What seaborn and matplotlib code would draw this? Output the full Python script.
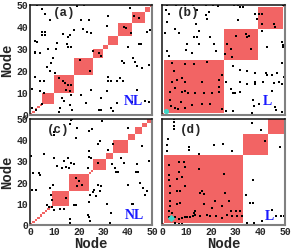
import numpy as np
import pandas as pd
import matplotlib
matplotlib.use("Agg")
import matplotlib.pyplot as plt
import seaborn as sns
from matplotlib.colors import ListedColormap

N = 50

# communities (first node, last node) for each panel
a_blocks = [(0, 0), (1, 1), (2, 2), (3, 3), (4, 4), (5, 9), (10, 17), (18, 25), (26, 29),
            (30, 31), (32, 35), (36, 41), (42, 46), (47, 48), (49, 49)]
b_blocks = [(0, 0), (1, 24), (25, 38), (39, 48), (49, 49)]
c_blocks = [(0, 0), (1, 1), (2, 2), (3, 3), (4, 4), (5, 5), (6, 6), (7, 7), (8, 8), (9, 15),
            (16, 23), (24, 24), (25, 25), (26, 30), (31, 33), (34, 39), (40, 42), (43, 45),
            (46, 47), (48, 49)]
d_blocks = [(0, 0), (1, 32), (33, 42), (43, 49)]

# links (node i, node j)
a_dots = [(3, 50), (5.1, 48), (6.1, 46), (8.3, 43.3), (19.3, 49.4), (22, 50), (21, 43), (24, 43.3),
          (32, 45.2), (31.5, 40.3), (41, 48.5), (42.5, 45), (49, 38.8), (48, 37.6), (5.1, 37.9),
          (6.1, 37.9), (5.1, 36.3), (6.1, 36.3), (2.2, 33.7), (3, 33), (2, 28.8), (2, 28), (4.1, 28),
          (7.2, 30), (10.6, 30.2), (11, 32.7), (13.4, 36.8), (16.4, 36.3), (15.7, 35.3), (15.2, 32.5),
          (15.5, 30.7), (16.6, 31), (18.2, 38.6), (21.7, 39), (23.5, 37.6), (24.9, 37.1), (9.3, 25.8),
          (8.6, 23.8), (6.8, 21.9), (8.3, 20), (10.2, 19.3), (2.1, 17.2), (4, 15.3), (5.9, 15.3),
          (0.8, 12), (4.3, 11), (5.8, 10), (0.7, 3.1), (2.3, 2.3), (5.1, 5.2), (12, 1.5), (12.4, 3),
          (16.2, 4.6), (17.3, 2.3), (14.1, 6.4), (13, 7.7), (16.9, 9.2), (23, 5.4), (28.3, 2.3),
          (29.1, 2.3), (31.5, 11), (31.8, 15.3), (33.4, 15.3), (35.5, 15.3), (36.9, 16.6), (32, 17.2),
          (38.3, 15.3), (37.8, 24.5), (38.5, 23.5), (42.4, 26), (43.1, 24.2), (43.8, 22.2),
          (45.9, 21.5), (48.9, 22.7), (40.3, 31), (44.5, 32.2), (45.3, 32.2), (35.5, 5.4), (33.4, 3.1),
          (34.1, 1.8), (43.8, 11.5), (42, 6.1), (48.6, 6.1), (47.2, 6.4), (28.2, 28.4), (29.3, 26.8),
          (38.4, 40.2), (39.2, 39.4), (41.4, 37.1), (42.8, 45.2), (44.5, 44.2), (12, 16.6),
          (13.4, 15.3), (14.5, 14.4), (15.5, 13.5), (16.9, 13.8), (14.8, 11.5), (16.2, 10.7),
          (20.3, 24.8), (24.4, 20), (25.8, 29.1), (21, 9.2), (29.3, 7.7), (25, 11.5)]
b_dots = [(2, 50), (5.6, 50), (9.4, 50), (12.6, 50), (17.7, 50), (20.8, 50), (22.8, 49.5), (29.1, 50),
          (31, 50), (31.8, 49.2), (32.9, 49.2), (49.2, 50), (1.6, 47.7), (2.7, 46.1), (2, 42.3),
          (5.4, 39.2), (6.8, 37.2), (1.4, 37.2), (14.3, 47.7), (17.7, 45.4), (18.1, 43.5), (19, 46.9),
          (13.9, 41.2), (15, 38.4), (12.9, 35.3), (14.3, 35.3), (10.2, 32.2), (15, 32.2), (19.7, 35.3),
          (21.1, 32.2), (22, 29.1), (9.9, 29.4), (12, 28.3), (2, 29.1), (3, 26.8), (30.8, 43.3),
          (37.8, 46.1), (39.4, 46.1), (40.5, 46.1), (38.7, 43.8), (40.8, 38.4), (45.5, 41.5),
          (45.9, 40.2), (48.9, 33), (49.2, 31.9), (49.2, 30.7), (42.8, 31.1), (48.9, 23.7), (49.6, 17.5),
          (28.8, 22.1), (31.9, 20.6), (34.6, 19.8), (38, 19), (42.1, 19.3), (42.8, 18), (44.8, 18),
          (46.9, 19), (26.1, 15.2), (31.9, 14.9), (34.6, 13.9), (38, 15.2), (38, 13.9), (41, 15.2),
          (45.5, 14.4), (47.6, 15.2), (27.9, 11.8), (28.8, 10.2), (29.6, 9.8), (31.9, 10.5),
          (44.8, 10.8), (48.9, 13.9), (37, 6.7), (37.4, 4.3), (39.4, 5.1), (45.8, 3.6), (46.5, 2.5),
          (48.9, 1.5), (26.1, 2), (28.8, 2), (36.7, 0.9), (4.1, 23.7), (9.5, 23.2), (12.9, 23.2),
          (18.1, 24.1), (4.8, 19.8), (24.2, 18.3), (23.1, 15.9), (4.1, 15.2), (6.1, 15.9), (8.2, 17),
          (9.2, 15.2), (16.3, 15.2), (23.1, 12.8), (3.4, 10.5), (5.2, 12.1), (8.2, 10.5), (9.2, 10.8),
          (10.6, 10.1), (13.3, 9.8), (17, 10.2), (20.4, 9.8), (23.1, 10.5), (3.4, 6.7), (7.9, 5.9),
          (12.2, 4.6), (16.3, 5.1), (19.7, 4.8), (3.8, 4), (5.4, 3.1), (6.5, 2.8), (9.5, 3.1),
          (24.5, 2.8), (29.9, 36.1), (34, 36.8), (34.6, 35.6), (35.3, 36.1), (26.5, 32.2), (27.9, 29.9),
          (36, 29.9), (25.8, 27.9), (28.3, 26.3), (40.5, 41.5), (45.5, 41.2)]
c_dots = [(0.4, 32.5), (1.4, 24.6), (3.5, 24.6), (4.2, 23.8), (5.6, 33.7), (0.7, 16.7), (2.4, 16.7),
          (9.7, 31.7), (9.7, 42.5), (9.7, 43.7), (11.1, 27.8), (13.2, 27), (13.9, 30.2), (14.6, 27.3),
          (15.7, 31.7), (16.7, 29.4), (16, 27), (16.3, 47.6), (17.4, 50), (19.4, 45.7), (18.8, 41),
          (18.1, 28.6), (16.7, 49.5), (24, 44.4), (25.4, 45.2), (24.3, 34.9), (24.3, 32.1), (25, 31.4),
          (23.6, 27), (27.8, 38.1), (28.5, 39.7), (29.4, 49.2), (34, 38.1), (31.9, 35.2), (33.8, 28.9),
          (34.7, 27), (37.5, 31.7), (38.5, 29.4), (36.1, 24.9), (35.4, 24.9), (40.3, 45.7),
          (43.8, 28.6), (43.5, 24.9), (44.4, 24.9), (45.8, 37.3), (48.6, 30.2), (40.3, 19),
          (45.1, 19.8), (47.2, 14.3), (47.9, 15.9), (46.3, 17.5), (42.4, 9.8), (41.7, 9.8), (33.3, 5.6),
          (32.6, 0.8), (31.5, 10), (27.1, 13.5), (28.5, 15.9), (29.2, 18.3), (27.8, 19), (26.4, 16.7),
          (25.7, 15.4), (24.6, 14.3), (24.3, 10.8), (24, 4), (24.6, 1.9), (23.6, 4.8), (16.5, 2.9),
          (16.5, 0.8), (18.8, 9.5), (18.1, 9.5), (13.9, 7.6), (12.5, 7.6), (9.7, 7.1), (9, 8.7),
          (6.9, 9.5), (7.6, 8.3), (8.8, 14), (9, 11.9), (9.3, 18.7), (8.3, 17.5), (18.8, 22.2),
          (20.1, 20.6), (21.2, 19), (19.2, 18.3), (14.6, 12.7), (27.8, 29.4)]
d_dots = [(4.8, 50), (4.8, 48.4), (4.8, 46.8), (4.8, 45.2), (2.4, 40.8), (2, 37.9), (2, 35),
          (10.9, 36.6), (10.9, 35.5), (14.9, 33.4), (21.1, 37.6), (24.7, 38.2), (28.3, 35), (36.7, 47.9),
          (40.1, 44.7), (41.7, 39.8), (47.8, 36.6), (37, 21), (34, 14), (35.6, 10.2), (37, 10.2),
          (44.8, 6.9), (46.2, 4.4), (48.2, 4.4), (49.6, 4.4), (34.6, 0.8), (37.4, 1.1), (40.8, 2.1),
          (3, 28.2), (3, 23.4), (3, 21), (3.4, 18.5), (3.4, 15.3), (3.4, 11.3), (3.4, 8.9), (2.7, 6.5),
          (4.1, 5.6), (6.8, 29.8), (6.8, 25), (6.1, 21.8), (8.2, 22.6), (6.1, 16.1), (7.5, 16.1),
          (6.1, 9.7), (7.5, 10.5), (8.8, 29.8), (9.5, 27.4), (9.2, 18.5), (14.9, 26.6), (16.3, 16.1),
          (15.6, 15.3), (17, 14.5), (25.1, 24.2), (21.7, 11.3), (25.8, 15), (27.2, 11.3), (24.5, 8.9),
          (17, 9.7), (20.4, 8.1), (13.6, 6.5), (12.9, 5.6), (29.9, 6.5), (27.9, 6.5), (31.9, 6.5),
          (2.7, 3.7), (5.4, 3.7), (6.8, 2.9), (8.2, 3.2), (9.2, 3.7), (10.2, 4), (11.3, 3.7), (12.5, 4.2),
          (13.6, 4.5), (15.6, 4.2), (18.3, 4.5), (19.7, 4.2), (22, 4.2), (24.5, 3.2), (26.5, 4.5),
          (28.5, 4.2), (30.6, 4.2), (32.6, 4.2), (5.2, 0.8), (6.8, 0.5), (8.2, 0.3)]

hub_b = (1.8, 2.0)
hub_d = (3.8, 3.2)

tags = ["(a)", "(b)", "(c)", "(d)"]
regimes = ["NL", "L", "NL", "L"]
ticks = [0, 10, 20, 30, 40, 50]

RED = "#f26464"


def membership(blocks):
    m = np.zeros((N, N))
    for s, e in blocks:
        m[s:e + 1, s:e + 1] = 1
    return m


sns.set_style("white")
plt.rcParams["font.family"] = ["Liberation Mono", "DejaVu Sans"]

fig = plt.figure(figsize=(2.91, 2.5), dpi=100)
rects = [[0.1031, 0.54, 0.4192, 0.44], [0.5567, 0.54, 0.4227, 0.44],
         [0.1031, 0.10, 0.4192, 0.424], [0.5567, 0.10, 0.4227, 0.424]]
tag_pos = [(0.19, 0.93), (0.12, 0.93), (0.14, 0.90), (0.146, 0.90)]
reg_pos = [(0.85, 0.12), (0.86, 0.12), (0.86, 0.085), (0.87, 0.08)]
hubs = [None, (hub_b, "o"), None, (hub_d, "D")]

for k, (blocks, dots) in enumerate(zip([a_blocks, b_blocks, c_blocks, d_blocks],
                                       [a_dots, b_dots, c_dots, d_dots])):
    ax = fig.add_axes(rects[k])
    sns.heatmap(membership(blocks), ax=ax, cmap=ListedColormap(["white", RED]),
                vmin=0, vmax=1, cbar=False, xticklabels=False, yticklabels=False)
    ax.invert_yaxis()

    df = pd.DataFrame(dots, columns=["i", "j"])
    sns.scatterplot(data=df, x="i", y="j", ax=ax, color="black", marker="s",
                    s=3.5, linewidth=0)
    if hubs[k] is not None:
        (hx, hy), mk = hubs[k]
        sns.scatterplot(x=[hx], y=[hy], ax=ax, color="#3fd6c8", marker=mk,
                        s=14, linewidth=0)

    ax.set_xlim(0, 50)
    ax.set_ylim(0, 50)
    ax.set_xticks(ticks)
    ax.set_yticks(ticks)
    bottom = k >= 2
    left = k % 2 == 0
    ax.set_xticklabels([str(t) for t in ticks] if bottom else [],
                       fontsize=7, fontweight="bold")
    ax.set_yticklabels([str(t) for t in ticks] if left else [],
                       fontsize=7, fontweight="bold")
    ax.tick_params(length=0, pad=1.5)
    ax.set_xlabel("")
    ax.set_ylabel("")

    for side in ["left", "top"]:
        ax.spines[side].set_visible(True)
        ax.spines[side].set_color("#111111")
        ax.spines[side].set_linewidth(1.1)
    for side in ["right", "bottom"]:
        ax.spines[side].set_visible(True)
        ax.spines[side].set_color("#808080")
        ax.spines[side].set_linewidth(1.5)

    ax.text(tag_pos[k][0], tag_pos[k][1], tags[k], transform=ax.transAxes,
            fontsize=9, fontweight="bold", ha="left", va="center")
    ax.text(reg_pos[k][0], reg_pos[k][1], regimes[k], transform=ax.transAxes,
            fontsize=10, fontweight="bold", color="#1a1aff", ha="center", va="center",
            family=["Liberation Serif"])

# shared axis titles
for xc in [0.313, 0.768]:
    fig.text(xc, 0.024, "Node", fontsize=10, fontweight="bold", ha="center", va="center")
for yc in [0.76, 0.312]:
    fig.text(0.024, yc, "Node", fontsize=10, fontweight="bold", ha="center", va="center",
             rotation=90)

fig.savefig("out.png", dpi=100)
